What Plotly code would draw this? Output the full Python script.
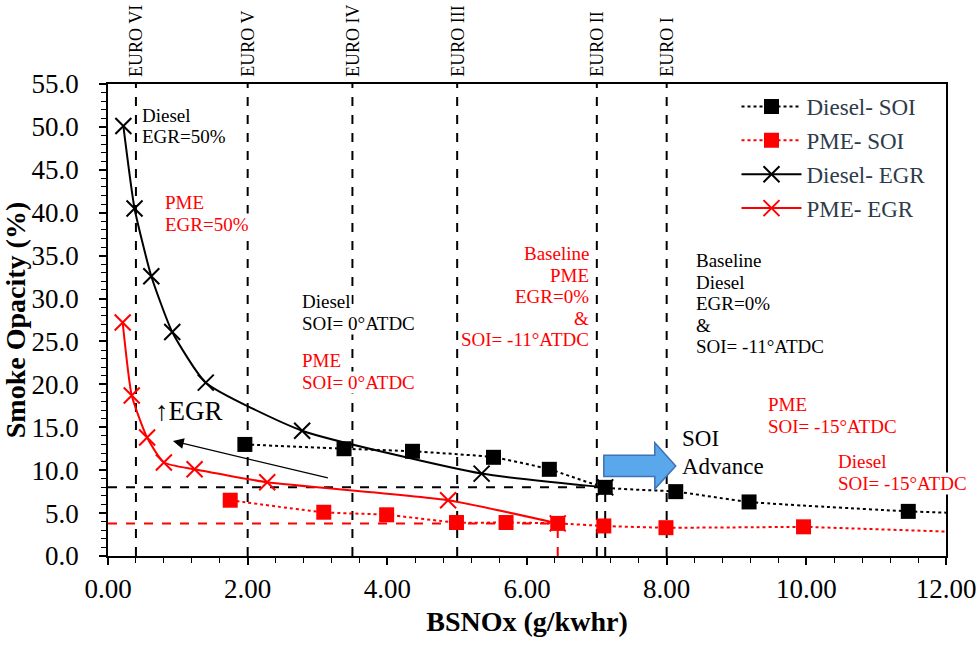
import plotly.graph_objects as go

# ---- data ----
diesel_soi_x = [1.96, 3.38, 4.36, 5.52, 6.32, 7.12, 8.13, 9.18, 11.46]
diesel_soi_y = [13.0, 12.5, 12.2, 11.5, 10.1, 8.0, 7.5, 6.3, 5.2]
pme_soi_x = [1.75, 3.09, 3.99, 4.99, 5.70, 6.44, 7.10, 7.99, 9.96]
pme_soi_y = [6.5, 5.1, 4.8, 3.9, 3.9, 3.8, 3.5, 3.3, 3.4]
diesel_egr_x = [0.22, 0.38, 0.62, 0.92, 1.40, 2.78, 5.35, 7.12]
diesel_egr_y = [50.1, 40.5, 32.6, 26.1, 20.2, 14.6, 9.6, 8.0]
pme_egr_x = [0.21, 0.34, 0.56, 0.80, 1.24, 2.28, 4.87, 6.44]
pme_egr_y = [27.2, 18.7, 13.8, 10.9, 10.1, 8.6, 6.5, 3.8]

# dotted SOI lines run on to the right edge of the plot
soi_tail_x = 12.0
diesel_tail_y = 5.05
pme_tail_y = 2.85

euro_names = ["EURO VI", "EURO V", "EURO IV", "EURO III", "EURO II", "EURO I"]
euro_x = [0.4, 2.0, 3.5, 5.0, 7.0, 8.0]

baseline_idx = 5  # baseline point (EGR=0%, SOI=-11) in the SOI series

FONT = "Liberation Serif"
RED = "#FF0000"

fig = go.Figure()

# EGR sweeps (solid, x markers)
fig.add_trace(go.Scatter(
    x=diesel_egr_x, y=diesel_egr_y, mode="lines+markers", name="Diesel- EGR",
    line=dict(color="black", width=2, shape="spline", smoothing=0.5),
    marker=dict(symbol="x-thin", size=16, color="black", line=dict(color="black", width=2)),
    legendrank=3, legendgroup="c",
))
fig.add_trace(go.Scatter(
    x=pme_egr_x, y=pme_egr_y, mode="lines+markers", name="PME- EGR",
    line=dict(color=RED, width=2, shape="spline", smoothing=0.5),
    marker=dict(symbol="x-thin", size=16, color=RED, line=dict(color=RED, width=2)),
    legendrank=4, legendgroup="d",
))

# SOI sweeps (dotted, squares) + tails to the edge
fig.add_trace(go.Scatter(
    x=[diesel_soi_x[-1], soi_tail_x], y=[diesel_soi_y[-1], diesel_tail_y], mode="lines",
    line=dict(color="black", width=2, dash="dot"), showlegend=False, hoverinfo="skip",
))
fig.add_trace(go.Scatter(
    x=[pme_soi_x[-1], soi_tail_x], y=[pme_soi_y[-1], pme_tail_y], mode="lines",
    line=dict(color=RED, width=2, dash="dot"), showlegend=False, hoverinfo="skip",
))
fig.add_trace(go.Scatter(
    x=diesel_soi_x, y=diesel_soi_y, mode="lines+markers", name="Diesel- SOI",
    line=dict(color="black", width=2, dash="dot", shape="spline", smoothing=0.5),
    marker=dict(symbol="square", size=15, color="black"),
    legendrank=1, legendgroup="a",
))
fig.add_trace(go.Scatter(
    x=pme_soi_x, y=pme_soi_y, mode="lines+markers", name="PME- SOI",
    line=dict(color=RED, width=2, dash="dot", shape="spline", smoothing=0.5),
    marker=dict(symbol="square", size=15, color=RED),
    legendrank=2, legendgroup="b",
))

# EURO limit lines
for name, xv in zip(euro_names, euro_x):
    fig.add_shape(type="line", x0=xv, x1=xv, y0=0, y1=55, xref="x", yref="y",
                  line=dict(color="black", width=2, dash="dash"), layer="below")
    fig.add_annotation(x=xv, y=1, xref="x", yref="paper", text=name, showarrow=False,
                       textangle=-90, xanchor="center", yanchor="bottom", yshift=5,
                       font=dict(family=FONT, size=18, color="black"))

# baseline guide lines
bx_d, by_d = diesel_soi_x[baseline_idx], diesel_soi_y[baseline_idx]
bx_p, by_p = pme_soi_x[baseline_idx], pme_soi_y[baseline_idx]
fig.add_shape(type="line", x0=0, x1=bx_d, y0=by_d, y1=by_d,
              line=dict(color="black", width=2, dash="dash"), layer="below")
fig.add_shape(type="line", x0=bx_d, x1=bx_d, y0=0, y1=by_d,
              line=dict(color="black", width=2, dash="dash"), layer="below")
fig.add_shape(type="line", x0=0, x1=bx_p, y0=by_p, y1=by_p,
              line=dict(color=RED, width=2, dash="dash"), layer="below")
fig.add_shape(type="line", x0=bx_p, x1=bx_p, y0=0, y1=by_p,
              line=dict(color=RED, width=2, dash="dash"), layer="below")

# blue "SOI Advance" block arrow
fig.add_shape(
    type="path",
    path="M 7.10 11.75 L 7.83 11.75 L 7.83 13.2 L 8.13 10.5 L 7.83 7.8 L 7.83 9.25 L 7.10 9.25 Z",
    fillcolor="#5AA8EC", line=dict(color="#3F72B8", width=1.5), layer="above",
)

# EGR direction arrow
fig.add_annotation(x=0.93, y=13.4, ax=3.17, ay=9.06, xref="x", yref="y", axref="x", ayref="y",
                   text="", showarrow=True, arrowhead=2, arrowsize=1.8, arrowwidth=1.2,
                   arrowcolor="black")


def note(text, x, y, color="black", size=19, xanchor="left", spacing=21.5):
    # one annotation per line so the line spacing can follow the original
    lines = text.split("\n")
    n = len(lines)
    for i, line in enumerate(lines):
        fig.add_annotation(x=x, y=y, xref="x", yref="y", text=line, showarrow=False,
                           xanchor=xanchor, yanchor="middle", bgcolor="white",
                           borderpad=0, yshift=((n - 1) / 2 - i) * spacing,
                           font=dict(family=FONT, size=size, color=color))


note("Diesel\nEGR=50%", 0.47, 50.1)
note("PME\nEGR=50%", 0.80, 39.9, RED)
note("Diesel\nSOI= 0°ATDC", 2.76, 28.4)
note("PME\nSOI= 0°ATDC", 2.77, 21.5, RED)
note("Baseline\nPME\nEGR=0%\n&\nSOI= -11°ATDC", 6.90, 30.2, RED, xanchor="right")
note("Baseline\nDiesel\nEGR=0%\n&\nSOI= -11°ATDC", 8.41, 29.4)
note("↑EGR", 1.16, 16.9, size=27, xanchor="center")
note("SOI\nAdvance", 8.20, 12.1, size=23, spacing=28)
note("PME\nSOI= -15°ATDC", 9.43, 16.4, RED)
note("Diesel\nSOI= -15°ATDC", 10.44, 9.73, RED)

axis_common = dict(
    showline=True, linecolor="black", linewidth=1.5, mirror=True,
    showgrid=False, zeroline=False, automargin=False,
    ticks="outside", ticklen=7, tickwidth=1.5, tickcolor="black",
    tickfont=dict(family=FONT, size=27, color="black"),
)

fig.update_xaxes(
    range=[0, 12], dtick=2, tickformat=".2f",
    minor=dict(dtick=0.4, ticks="outside", ticklen=5, tickwidth=1.2, tickcolor="black"),
    title=dict(text="<b>BSNOx (g/kwhr)</b>", font=dict(family=FONT, size=28, color="black"),
               standoff=8),
    ticklabelstandoff=1,
    **axis_common,
)
fig.update_yaxes(
    range=[0, 55], dtick=5, tickformat=".1f",
    minor=dict(dtick=1, ticks="outside", ticklen=5, tickwidth=1.2, tickcolor="black"),
    title=dict(text="<b>Smoke Opacity (%)</b>", font=dict(family=FONT, size=28, color="black"),
               standoff=8),
    ticklabelstandoff=15,
    **axis_common,
)

fig.update_layout(
    width=980, height=646,
    margin=dict(l=108, r=34, t=84, b=90),
    paper_bgcolor="white", plot_bgcolor="white",
    font=dict(family=FONT, color="black"),
    legend=dict(x=0.75, y=0.998, xanchor="left", yanchor="top",
                bgcolor="rgba(0,0,0,0)", font=dict(family=FONT, size=23, color="#2E3B4A"),
                itemwidth=60, tracegroupgap=1, traceorder="grouped"),
)

# the page's default body margin would push the figure 8px off
fig.write_html("out.html", config={"displayModeBar": False},
               post_script="document.body.style.margin='0px';")
